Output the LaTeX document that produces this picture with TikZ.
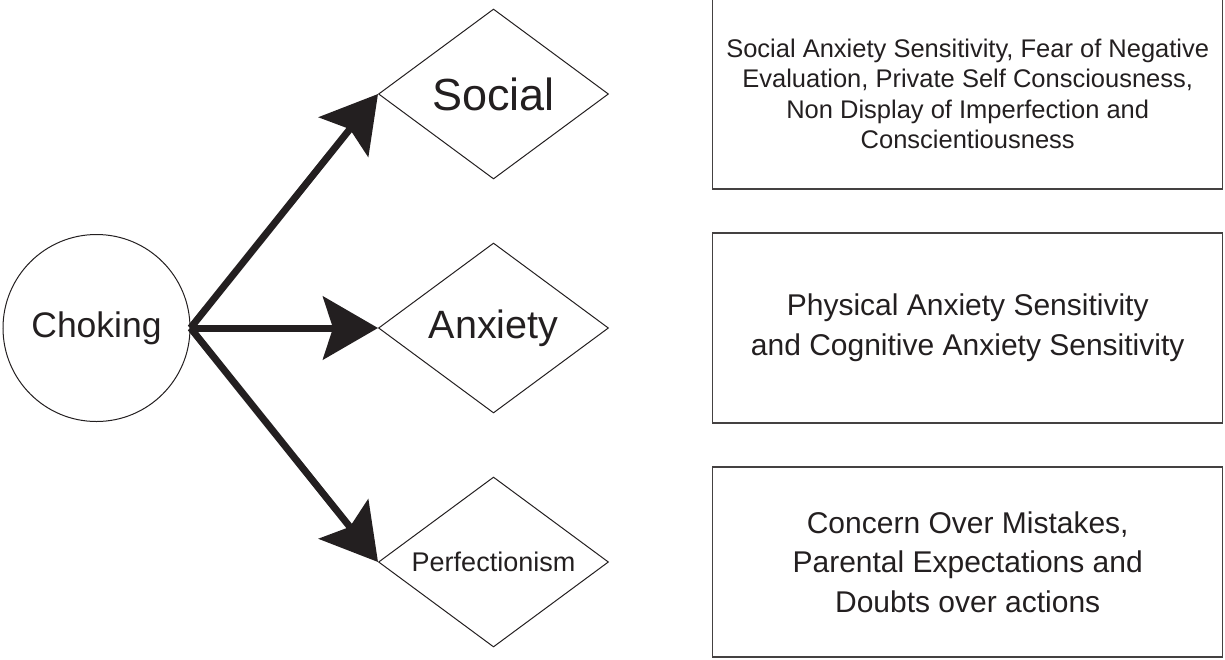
\documentclass[tikz,border=0pt]{standalone}
\usepackage{fontspec}
\setmainfont{Liberation Sans}
\usetikzlibrary{shapes.geometric,arrows.meta}
\definecolor{ink}{HTML}{231F20}
\begin{document}
\begin{tikzpicture}[x=1pt,y=-1pt,
  dia/.style={diamond, draw=ink, line width=1pt, shape aspect=1.353,
    minimum width=230pt, minimum height=170pt, inner sep=0pt, text=ink},
  circ/.style={circle, draw=ink, line width=1pt, minimum size=187pt,
    inner sep=0pt, text=ink},
  info/.style={rectangle, draw=ink!85, line width=1.4pt, minimum width=510pt,
    minimum height=190pt, inner sep=0pt, align=center, text=ink},
  conn/.style={draw=ink, line width=7pt,
    -{Stealth[length=55pt, width=63pt, inset=10pt]}}
]
\useasboundingbox (0,0) rectangle (1225,659);

\node[circ, font=\fontsize{35.5}{40}\selectfont] (ch) at (96.5,328) {Choking};

\node[dia, font=\fontsize{45}{50}\selectfont] (so) at (493.5,94) {Social};
\node[dia, font=\fontsize{39.5}{44}\selectfont] (an) at (493.5,328) {Anxiety};
\node[dia, font=\fontsize{27}{30}\selectfont] (pe) at (493.5,562) {Perfectionism};

\node[info, font=\fontsize{25.5}{30.3}\selectfont] (b1) at (967.7,94) {%
  Social Anxiety Sensitivity, Fear of Negative\\
  Evaluation, Private Self Consciousness,\\
  Non Display of Imperfection and\\
  Conscientiousness};
\node[info, font=\fontsize{30}{40}\selectfont] (b2) at (967.7,328) {%
  Physical Anxiety Sensitivity\\
  and Cognitive Anxiety Sensitivity};
\node[info, font=\fontsize{30}{39.5}\selectfont] (b3) at (967.7,562) {%
  Concern Over Mistakes,\\
  Parental Expectations and\\
  Doubts over actions};

\draw[conn] (ch.east) -- (so.west);
\draw[conn] (ch.east) -- (an.west);
\draw[conn] (ch.east) -- (pe.west);
\end{tikzpicture}
\end{document}
